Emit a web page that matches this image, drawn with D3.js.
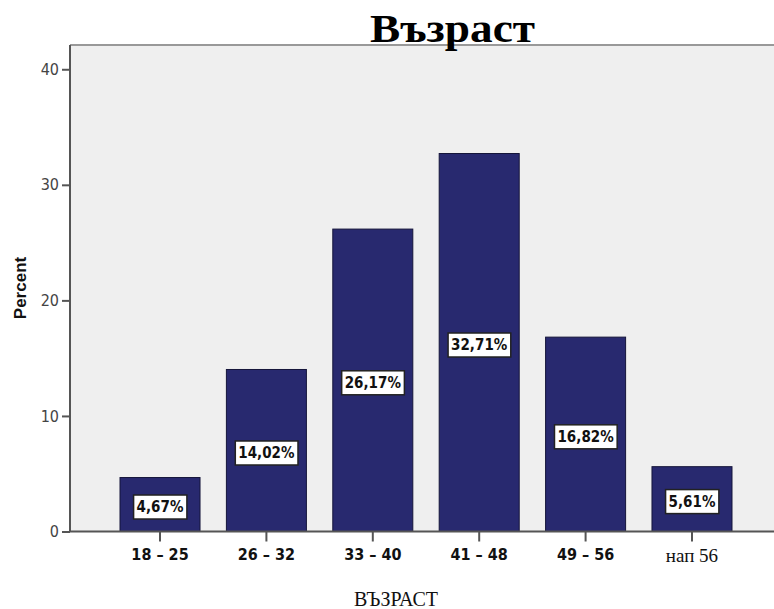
<!DOCTYPE html>
<html>
<head>
<meta charset="utf-8">
<script src="https://cdn.jsdelivr.net/npm/d3@7"></script>
<style>
  body { margin: 0; background: #fff; }
  svg { display: block; }
</style>
</head>
<body>
<div id="chart"></div>
<script>
// Data
const categories = ["18 – 25", "26 – 32", "33 – 40", "41 – 48", "49 – 56", "нап 56"];
const percents = [4.67, 14.02, 26.17, 32.71, 16.82, 5.61];
const valueLabels = ["4,67%", "14,02%", "26,17%", "32,71%", "16,82%", "5,61%"];
const yTicks = [0, 10, 20, 30, 40];

const W = 774, H = 609;
const plot = { left: 70, right: 782, top: 45, bottom: 531.5 };
const narrow = "'Liberation Sans Narrow', 'Arial Narrow', 'DejaVu Sans Condensed', sans-serif";
const serif = "'Liberation Serif', 'Times New Roman', serif";

const svg = d3.select("#chart")
    .append("svg")
    .attr("width", W)
    .attr("height", H);

// Scales
const x = d3.scaleBand()
    .domain(categories)
    .range([plot.left, plot.right])
    .paddingInner(0.248)
    .paddingOuter(0.47);

const y = d3.scaleLinear()
    .domain([0, 42.1])
    .range([plot.bottom, plot.top]);

// Plot background
svg.append("rect")
    .attr("x", plot.left)
    .attr("y", plot.top)
    .attr("width", plot.right - plot.left)
    .attr("height", plot.bottom - plot.top)
    .attr("fill", "#efefef");

// Top border
svg.append("line")
    .attr("x1", plot.left).attr("x2", plot.right)
    .attr("y1", plot.top).attr("y2", plot.top)
    .attr("stroke", "#999")
    .attr("stroke-width", 2);

// Bars
svg.selectAll("rect.bar")
    .data(percents)
    .join("rect")
    .attr("class", "bar")
    .attr("x", (d, i) => x(categories[i]))
    .attr("y", d => y(d))
    .attr("width", x.bandwidth())
    .attr("height", d => y(0) - y(d))
    .attr("fill", "#28296f")
    .attr("stroke", "#15153a")
    .attr("stroke-width", 1);

// Value labels in boxes
const lab = svg.selectAll("g.vlabel")
    .data(percents)
    .join("g")
    .attr("class", "vlabel")
    .attr("transform", (d, i) =>
        `translate(${x(categories[i]) + x.bandwidth() / 2}, ${(y(d) + y(0)) / 2 + 2.5})`);

lab.append("text")
    .attr("text-anchor", "middle")
    .attr("dy", "0.36em")
    .style("font-family", narrow)
    .style("font-weight", "bold")
    .style("font-size", "15px")
    .attr("fill", "#111")
    .text((d, i) => valueLabels[i]);

lab.each(function () {
    const g = d3.select(this);
    const bb = g.select("text").node().getBBox();
    g.insert("rect", "text")
        .attr("x", bb.x - 3)
        .attr("y", -12)
        .attr("width", bb.width + 6)
        .attr("height", 24)
        .attr("fill", "#fff")
        .attr("stroke", "#222")
        .attr("stroke-width", 1.5);
});

// Y axis
const yAxis = svg.append("g")
    .attr("transform", `translate(${plot.left},0)`)
    .call(d3.axisLeft(y).tickValues(yTicks).tickSize(8).tickPadding(3));
yAxis.select(".domain")
    .attr("d", `M0,${plot.top}V${plot.bottom}`)
    .attr("stroke", "#555")
    .attr("stroke-width", 2);
yAxis.selectAll(".tick line").attr("stroke", "#555").attr("stroke-width", 2);
yAxis.selectAll(".tick text")
    .style("font-family", narrow)
    .style("font-size", "16px")
    .attr("fill", "#444");

// X axis
const xAxis = svg.append("g")
    .attr("transform", `translate(0,${plot.bottom})`)
    .call(d3.axisBottom(x).tickSize(10).tickPadding(7));
xAxis.select(".domain")
    .attr("d", `M${plot.left},0H${plot.right}`)
    .attr("stroke", "#555")
    .attr("stroke-width", 2);
xAxis.selectAll(".tick line").attr("stroke", "#555").attr("stroke-width", 2);
xAxis.selectAll(".tick text")
    .style("font-family", narrow)
    .style("font-weight", "bold")
    .style("font-size", "16px")
    .attr("fill", "#111");
xAxis.selectAll(".tick text")
    .filter(d => d === "нап 56")
    .style("font-family", serif)
    .style("font-weight", "normal")
    .style("font-size", "19px");

// Y axis title
svg.append("text")
    .attr("transform", "translate(26,288) rotate(-90)")
    .attr("text-anchor", "middle")
    .style("font-family", "'Liberation Sans', Arial, sans-serif")
    .style("font-weight", "bold")
    .style("font-size", "17px")
    .attr("fill", "#111")
    .text("Percent");

// X axis title
svg.append("text")
    .attr("x", 396)
    .attr("y", 606)
    .attr("text-anchor", "middle")
    .style("font-family", serif)
    .style("font-size", "20px")
    .attr("fill", "#111")
    .text("ВЪЗРАСТ");

// Chart title
svg.append("text")
    .attr("x", 452.5)
    .attr("y", 42)
    .attr("text-anchor", "middle")
    .attr("textLength", 165)
    .attr("lengthAdjust", "spacingAndGlyphs")
    .style("font-family", serif)
    .style("font-weight", "bold")
    .style("font-size", "41px")
    .attr("fill", "#000")
    .text("Възраст");
</script>
</body>
</html>
